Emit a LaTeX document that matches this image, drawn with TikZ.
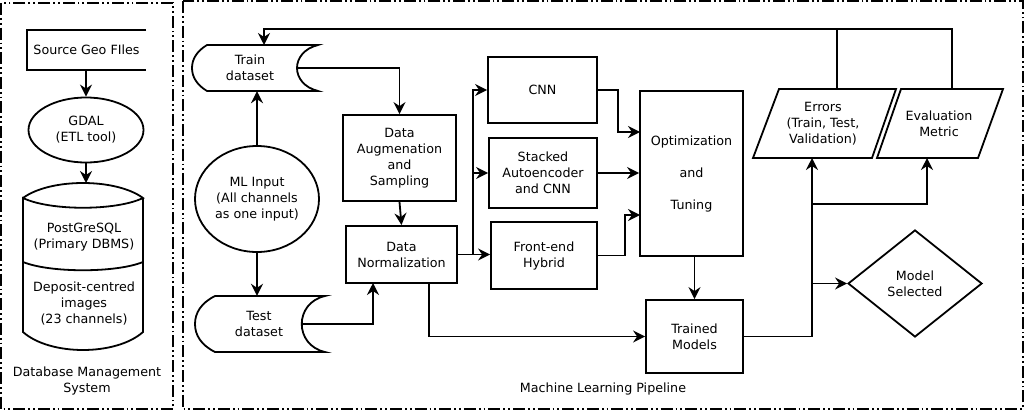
\documentclass[tikz,border=0pt]{standalone}
\usepackage{fontspec}
\setmainfont{DejaVu Sans}
\usetikzlibrary{arrows.meta,shapes.geometric}

\newlength{\du}
\setlength{\du}{1pt}

\tikzset{
  dialine/.style={line width=1.8\du, draw=dialinecolor},
  flowarrow/.style={dialine, -{Stealth[length=12pt,width=12pt,inset=4pt]}},
  groupframe/.style={dialine, dash pattern=on 12\du off 3\du on 1.8\du off 3\du on 1.8\du off 3\du},
  plaintext/.style={align=center, font=\fontsize{12.7\du}{16\du}\selectfont, text=dialinecolor, inner sep=0pt},
  stepbox/.style={plaintext, dialine, rectangle},
  roundbox/.style={plaintext, dialine, ellipse},
  choicebox/.style={plaintext, dialine, diamond}
}

\begin{document}
\begin{tikzpicture}
\pgftransformxscale{1.000000}
\pgftransformyscale{-1.000000}
\definecolor{dialinecolor}{rgb}{0.000000, 0.000000, 0.000000}
\useasboundingbox (0\du,0\du) rectangle (1027\du,412\du);
% group frames
\draw[groupframe] (1\du,3\du) rectangle (173\du,409\du);
\draw[groupframe] (183\du,1\du) rectangle (1023\du,409\du);
\node[plaintext] (dbmslabel) at (87\du,381\du){Database Management\\System};
\node[plaintext] (pipelabel) at (603\du,389\du){Machine Learning Pipeline};
% database side
\node[plaintext, minimum width=119\du, minimum height=40\du] (srcfiles) at (86.5\du,50\du){Source Geo FIles};
\draw[dialine] (srcfiles.north east)--(srcfiles.north west)--(srcfiles.south west)--(srcfiles.south east);
\node[roundbox, minimum width=115\du, minimum height=65\du] (gdal) at (86\du,130\du){GDAL\\(ETL tool)};
\draw[dialine] (23\du,198\du) .. controls (50\du,178\du) and (116\du,178\du) .. (143\du,198\du)
  .. controls (116\du,211\du) and (50\du,211\du) .. (23\du,198\du)--(23\du,332\du)
  .. controls (50\du,356\du) and (116\du,356\du) .. (143\du,332\du)--(143\du,198\du);
\draw[dialine] (23\du,262\du) .. controls (50\du,273\du) and (116\du,273\du) .. (143\du,262\du);
\coordinate (dbtop) at (86\du,183\du);
\node[plaintext] (postgres) at (84\du,237\du){PostGreSQL\\(Primary DBMS)};
\node[plaintext] (deposit) at (84\du,304\du){Deposit-centred\\images\\(23 channels)};
\draw[flowarrow] (srcfiles.south -| gdal.north)--(gdal.north);
\draw[flowarrow] (gdal.south)--(dbtop);
% datasets
\draw[dialine] (207\du,45\du)--(318\du,45\du) .. controls (290\du,52\du) and (290\du,84\du) .. (318\du,91\du)
  --(207\du,91\du) .. controls (197\du,85\du) and (192\du,77\du) .. (192\du,68\du)
  .. controls (192\du,59\du) and (197\du,51\du) .. (207\du,45\du)--cycle;
\draw[dialine] (215\du,296\du)--(325\du,296\du) .. controls (294\du,303\du) and (294\du,345\du) .. (325\du,352\du)
  --(215\du,352\du) .. controls (201\du,345\du) and (195\du,335\du) .. (195\du,324\du)
  .. controls (195\du,313\du) and (201\du,303\du) .. (215\du,296\du)--cycle;
\node[plaintext, minimum height=46\du] (train) at (250\du,68\du){Train\\dataset};
\node[plaintext, minimum height=56\du] (test) at (259\du,324\du){Test\\dataset};
\coordinate (trainout) at (297\du,68\du);
\coordinate (trainin) at (264\du,45\du);
\coordinate (testout) at (302\du,324\du);
\node[roundbox, minimum width=124\du, minimum height=106\du] (mlinput) at (257\du,199\du){ML Input\\(All channels\\as one input)};
\draw[flowarrow] (mlinput.north)--(mlinput.north |- train.south);
\draw[flowarrow] (mlinput.south)--(mlinput.south |- test.north);
% preprocessing
\node[stepbox, minimum width=113\du, minimum height=86\du] (augment) at (399.5\du,158\du){Data\\Augmenation\\and\\Sampling};
\node[stepbox, minimum width=111\du, minimum height=57\du] (normalize) at (401.5\du,254.5\du){Data\\Normalization};
\coordinate (normin) at (373\du,283\du);
\coordinate (normout) at (429\du,283\du);
\draw[flowarrow] (trainout)-|(augment.north);
\draw[flowarrow] (augment.south)--(normalize.north);
\draw[flowarrow] (testout)-|(normin);
% models
\node[stepbox, minimum width=109\du, minimum height=66\du] (cnn) at (542.5\du,90\du){CNN};
\node[stepbox, minimum width=108\du, minimum height=70\du] (stacked) at (543\du,173\du){Stacked\\Autoencoder\\and CNN};
\node[stepbox, minimum width=106\du, minimum height=67\du] (hybrid) at (544\du,255.5\du){Front-end\\Hybrid};
\coordinate (split) at (473\du,254.5\du);
\draw[flowarrow] (normalize.east)--(normalize.east -| hybrid.west);
\draw[flowarrow] (split)|-(cnn.west);
\draw[flowarrow] (split)|-(stacked.west);
\node[stepbox, minimum width=103\du, minimum height=165\du] (optimize) at (691.5\du,173.5\du){Optimization\\[16\du]and\\[16\du]Tuning};
\coordinate (optin1) at (640\du,132\du);
\coordinate (optin3) at (640\du,215\du);
\draw[flowarrow] (cnn.east)--++(20\du,0\du)|-(optin1);
\draw[flowarrow] (stacked.east)--(stacked.east -| optimize.west);
\draw[flowarrow] (hybrid.east)--++(27\du,0\du)|-(optin3);
\node[stepbox, minimum width=97\du, minimum height=73\du] (trained) at (694.5\du,336.5\du){Trained\\Models};
\draw[flowarrow] (trained.north |- optimize.south)--(trained.north);
\draw[flowarrow] (normout)|-(trained.west);
% evaluation
\draw[dialine] (753\du,158\du)--(779\du,89\du)--(896\du,89\du)--(872\du,158\du)--cycle;
\draw[dialine] (877\du,158\du)--(901\du,89\du)--(1003\du,89\du)--(978\du,158\du)--cycle;
\node[plaintext, minimum height=69\du] (errors) at (823\du,123.5\du){Errors\\(Train, Test,\\Validation)};
\node[plaintext, minimum height=69\du] (metric) at (939\du,123.5\du){Evaluation\\Metric};
\node[choicebox, minimum width=134\du, minimum height=107\du] (selected) at (915\du,283.5\du){Model\\Selected};
\coordinate (errin) at (812\du,158\du);
\coordinate (metricin) at (927\du,158\du);
\coordinate (tapmetric) at (812\du,204\du);
\coordinate (tapselect) at (812\du,283.5\du);
\coordinate (errup) at (837\du,89\du);
\coordinate (metricup) at (952\du,89\du);
\draw[flowarrow] (trained.east)-|(errin);
\draw[flowarrow] (tapmetric)-|(metricin);
\draw[flowarrow] (tapselect)--(selected.west);
% feedback loop
\draw[dialine] (errup)--++(0\du,-60\du);
\draw[flowarrow] (metricup)--++(0\du,-60\du)-|(trainin);
\end{tikzpicture}
\end{document}
